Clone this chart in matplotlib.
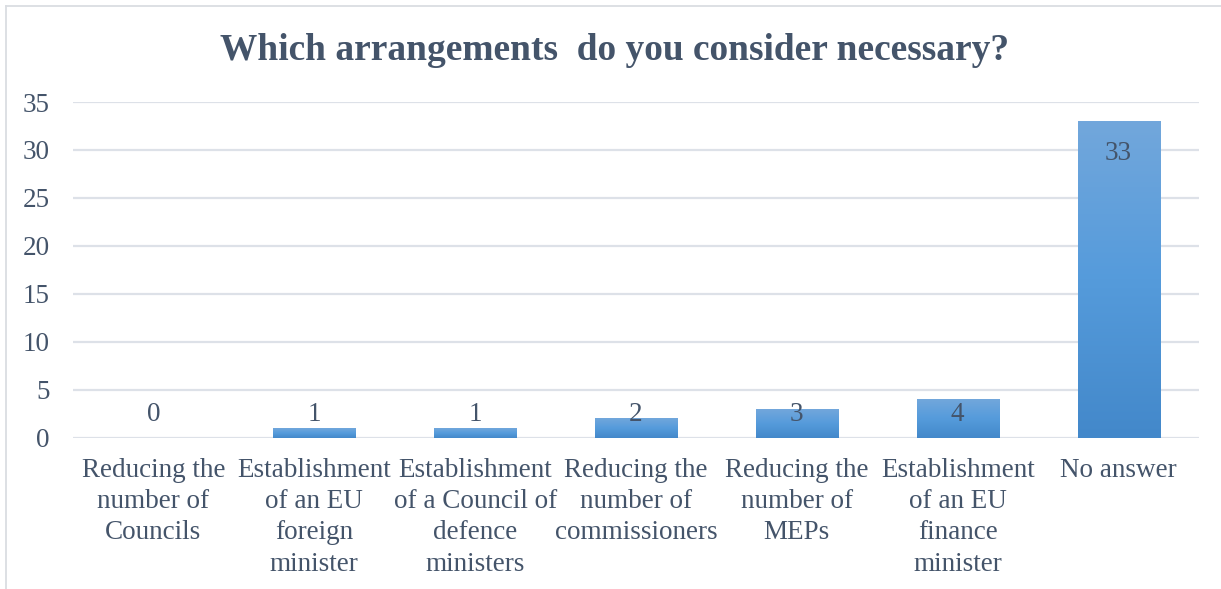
import numpy as np
import matplotlib
matplotlib.use("Agg")
import matplotlib.pyplot as plt
from matplotlib.colors import LinearSegmentedColormap
from matplotlib.lines import Line2D

categories = [
    "Reducing the\nnumber of\nCouncils",
    "Establishment\nof an EU\nforeign\nminister",
    "Establishment\nof a Council of\ndefence\nministers",
    "Reducing the\nnumber of\ncommissioners",
    "Reducing the\nnumber of\nMEPs",
    "Establishment\nof an EU\nfinance\nminister",
    "No answer",
]
values = [0, 1, 1, 2, 3, 4, 33]
y_ticks = [0, 5, 10, 15, 20, 25, 30, 35]
title = "Which arrangements  do you consider necessary?"

TEXT = "#44546A"
GRID = "#DDE1E8"
FRAME = "#DADDE2"
plt.rcParams["font.family"] = ["Liberation Serif", "DejaVu Serif"]

W, H, DPI = 1221, 589, 100
fig = plt.figure(figsize=(W / DPI, H / DPI), dpi=DPI)
fig.patch.set_facecolor("white")

ax = fig.add_axes([73 / W, 1 - 437.7 / H, (1199 - 73) / W, (437.7 - 102) / H])
ax.set_yticks(y_ticks)
ax.set_yticklabels([str(t) for t in y_ticks], fontsize=19.5, color=TEXT)
ax.tick_params(axis="y", length=0, pad=17)
ax.tick_params(axis="x", length=0)
ax.set_xticks([])
for s in ax.spines.values():
    s.set_visible(False)
ax.yaxis.grid(True, color=GRID, linewidth=1.6)
ax.set_axisbelow(True)

cmap = LinearSegmentedColormap.from_list(
    "barfill", [(0.0, "#4388CA"), (0.5, "#559BDB"), (1.0, "#72A7DC")]
)
grad = np.linspace(0, 1, 256).reshape(-1, 1)
bw = 0.51
x = np.arange(len(values))
bars = ax.bar(x, values, width=bw, color="#559BDB", zorder=2)
for b, v in zip(bars, values):
    if v <= 0:
        continue
    x0 = b.get_x()
    ax.imshow(grad, cmap=cmap, origin="lower", aspect="auto",
              extent=(x0, x0 + bw, 0, v), zorder=2.5, interpolation="bilinear")
    b.set_visible(False)
ax.set_xlim(-0.5, len(values) - 0.5)
ax.set_ylim(0, 35)

for xi, v in zip(x, values):
    ax.text(xi, max(v - 3.35, 2.45), str(v), ha="center", va="center",
            fontsize=19.5, color=TEXT, zorder=4)

for xi, c in zip(x, categories):
    ax.text(xi, -2.15, c, ha="center", va="top", fontsize=19.5, color=TEXT,
            linespacing=1.32, transform=ax.transData, clip_on=False)

fig.text(615 / W, 1 - 51 / H, title, ha="center", va="center",
         fontsize=26.9, fontweight="bold", color=TEXT)

# chart frame
fig.add_artist(Line2D([6 / W, 1.0], [1 - 6 / H, 1 - 6 / H], transform=fig.transFigure,
                      color=FRAME, linewidth=1.3))
fig.add_artist(Line2D([6 / W, 6 / W], [0, 1 - 6 / H], transform=fig.transFigure,
                      color=FRAME, linewidth=1.3))

fig.savefig("out.png", dpi=DPI, facecolor="white")
